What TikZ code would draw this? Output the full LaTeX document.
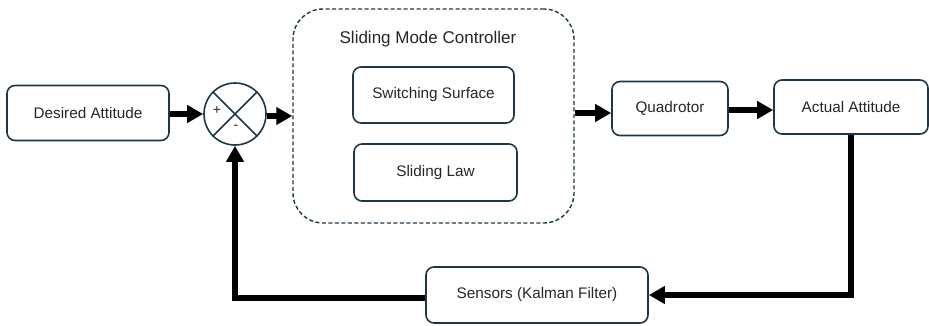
\documentclass[tikz,border=0pt]{standalone}
\usepackage{fontspec}
\setmainfont{Liberation Sans}
\usetikzlibrary{arrows.meta}
\definecolor{boxline}{RGB}{28,56,72}
\definecolor{txt}{RGB}{38,38,38}
\tikzset{
    blk/.style={draw=boxline, line width=1.6pt, rounded corners=8pt, text=txt, font=\fontsize{15.3}{18}\selectfont, inner sep=0pt},
    flow/.style={line width=5.5pt, -{Triangle[length=16pt,width=17pt]}, black}
}
\begin{document}
\begin{tikzpicture}[x=1pt, y=-1pt]
        % frame
        \useasboundingbox (0,0) rectangle (929,325);

        % blocks
        \node[blk, minimum width=162pt, minimum height=55pt] (des) at (88,113) {Desired Attitude};
        \node[draw=boxline, line width=1.6pt, circle, minimum size=62pt, inner sep=0pt] (sum) at (235,114) {};
        \draw[boxline, line width=1.6pt] (sum.north west) -- (sum.south east) (sum.north east) -- (sum.south west);
        \node[text=txt, font=\fontsize{14}{15}\selectfont] (plus) at (217,110) {+};
        \node[text=txt, font=\fontsize{14}{15}\selectfont] (minus) at (236,127) {-};

        % controller
        \node[draw=boxline, line width=1.4pt, dashed, dash pattern=on 4pt off 2.5pt, rounded corners=30pt, minimum width=281pt, minimum height=214pt] (smc) at (433.5,116) {};
        \node[text=txt, font=\fontsize{17}{20}\selectfont] (smctitle) at (428,39) {Sliding Mode Controller};
        \node[blk, minimum width=161pt, minimum height=56pt] (sws) at (433.5,95) {Switching Surface};
        \node[blk, minimum width=163pt, minimum height=57pt] (slaw) at (435.5,172.5) {Sliding Law};

        % plant
        \node[blk, minimum width=116pt, minimum height=54pt] (quad) at (670,108.5) {Quadrotor};
        \node[blk, minimum width=154pt, minimum height=54pt] (act) at (851,107) {Actual Attitude};
        \node[blk, minimum width=222pt, minimum height=56pt] (sens) at (537,295) {Sensors (Kalman Filter)};

        % arrows
        \draw[flow] (des.east |- sum) -- (sum.west);
        \draw[flow] ([yshift=-2pt]sum.east) -- ([yshift=-2pt]sum.east -| smc.west);
        \draw[flow] ([yshift=3pt]smc.east) -- ([yshift=3pt]smc.east -| quad.west);
        \draw[flow] ([yshift=-1.5pt]quad.east) -- ([yshift=-1.5pt]quad.east -| act.west);
        \draw[flow] (act.south) |- (sens.east);
        \draw[flow] ([yshift=-3pt]sens.west) -| (sum.south);
    \end{tikzpicture}
\end{document}
